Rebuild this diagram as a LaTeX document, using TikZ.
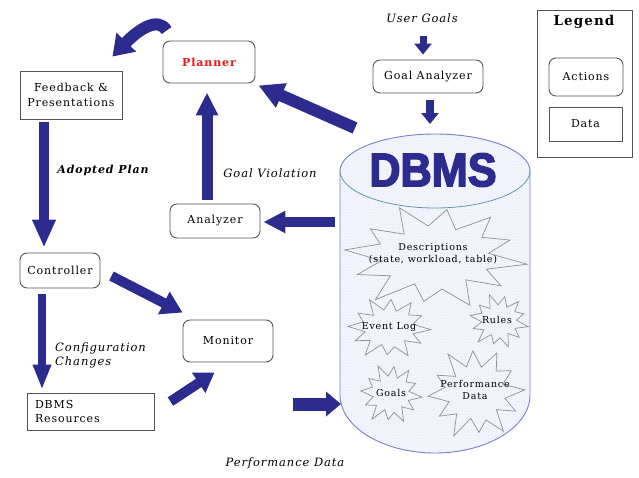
\documentclass[tikz,border=0pt]{standalone}
\usepackage{fontspec}
\setmainfont{DejaVu Serif}[LetterSpace=8]
\newfontfamily\dbmsfont{Liberation Sans}
\usetikzlibrary{arrows.meta,patterns}
\definecolor{arrowblue}{RGB}{44,44,142}
\definecolor{boxgray}{RGB}{85,85,85}
\definecolor{plannerred}{RGB}{235,20,20}
\definecolor{cylfill}{RGB}{242,245,252}
\definecolor{cyldots}{RGB}{212,220,238}
\definecolor{cylline}{RGB}{125,125,205}
\definecolor{cyltop}{RGB}{100,150,170}
\definecolor{burstgray}{RGB}{145,145,145}
\tikzset{
  action/.style={draw=boxgray, line width=0.9pt, rounded corners=7pt, fill=white,
    font=\fontsize{11}{14.5}\selectfont, inner sep=2pt},
  datab/.style={draw=boxgray, line width=0.9pt, fill=white,
    font=\fontsize{11}{14.5}\selectfont, inner sep=2pt},
  lbl/.style={font=\fontsize{11.5}{14}\selectfont\itshape, inner sep=0pt},
  barrow/.style={draw=arrowblue, line cap=butt},
  burst/.style={draw=burstgray, line width=0.7pt},
  btext/.style={font=\fontsize{9.5}{12}\selectfont, align=center, inner sep=0pt}
}
\newcommand\starburst[5]{%
  \draw[burst] ([shift={(#1,#2)}]#5:#3 and #4)
    \foreach \f [count=\k] in {0.6,0.9,0.55,1.0,0.62,0.86,0.56,1.04,0.6,0.9,0.58,0.98,0.64,0.88,0.55,1.02,0.6,0.92,0.57,0.97,0.63,0.87,0.58}
    { -- ([shift={(#1,#2)}]{#5+\k*15}:{#3*\f} and {#4*\f}) } -- cycle;}
\begin{document}
\begin{tikzpicture}[x=1pt,y=-1pt]
\path[use as bounding box, fill=white] (0,0) rectangle (639,477);

% ---- DBMS cylinder
\path[fill=cylfill, postaction={pattern=dots, pattern color=cyldots}] (340,171) -- (340,395) .. controls (340,427) and (383,453) .. (435,453)
  .. controls (487,453) and (530,427) .. (530,395) -- (530,171)
  .. controls (530,151) and (487,134) .. (435,134)
  .. controls (383,134) and (340,151) .. (340,171) -- cycle;
\draw[cylline, line width=0.9pt] (340,171) -- (340,395) .. controls (340,427) and (383,453) .. (435,453)
  .. controls (487,453) and (530,427) .. (530,395) -- (530,171)
  .. controls (530,151) and (487,134) .. (435,134)
  .. controls (383,134) and (340,151) .. (340,171);
\draw[cyltop, line width=0.8pt] (340,171) .. controls (340,191) and (383,208) .. (435,208)
  .. controls (487,208) and (530,191) .. (530,171);
\coordinate (dbms) at (435,290);
\node[text=arrowblue, font=\dbmsfont\fontsize{47}{50}\selectfont\bfseries, inner sep=0pt] (dbmslabel) at (433,170)
  {\scalebox{0.92}[1]{\special{pdf:literal 1.6 w 2 Tr}DBMS\special{pdf:literal 0 Tr 0.4 w}}};

% ---- starbursts
\starburst{435}{257}{93}{52}{8}
\node[btext] (desc) at (433,254) {Descriptions\\(state, workload, table)};
\starburst{389}{328}{42}{31}{3}
\node[btext] (evlog) at (389,327) {Event Log};
\starburst{499}{321}{30}{27}{12}
\node[btext] (rules) at (497,320) {Rules};
\starburst{391}{394}{31}{30}{6}
\node[btext] (goals) at (391,393) {Goals};
\starburst{476}{393}{49}{46}{-4}
\node[btext] (perf) at (475,390) {Performance\\Data};

% ---- nodes
\node[action, minimum width=92pt, minimum height=42pt] (planner) at (209,62)
  {\textcolor{plannerred}{\bfseries Planner}};
\node[datab, minimum width=102pt, minimum height=48pt, align=center] (feedback) at (71,95)
  {Feedback \&\\Presentations};
\node[action, minimum width=110pt, minimum height=33pt] (goalan) at (428,76.5) {Goal Analyzer};
\node[action, minimum width=90pt, minimum height=34pt] (analyzer) at (215,221) {Analyzer};
\node[action, minimum width=80pt, minimum height=35pt] (controller) at (60,270.5) {Controller};
\node[action, minimum width=90pt, minimum height=42pt] (monitor) at (228,341) {Monitor};
\node[datab, minimum width=127pt, minimum height=37pt, align=left, text width=111pt] (resources) at (90.5,411.5)
  {DBMS\\Resources};

% ---- legend
\node[datab, minimum width=95pt, minimum height=147pt] (legend) at (584.5,83.5) {};
\node[font=\fontsize{13.5}{15}\selectfont\bfseries, inner sep=0pt] (legendtitle) at (584,22) {Legend};
\node[action, minimum width=74pt, minimum height=38pt] (lact) at (586,77) {Actions};
\node[datab, minimum width=73pt, minimum height=34pt] (ldata) at (585.5,124) {Data};

% ---- labels
\node[lbl] (ugoals) at (422,18) {User Goals};
\node[lbl] (gviol) at (270,173) {Goal Violation};
\node[lbl, font=\fontsize{11}{14}\selectfont\bfseries\itshape] (adopted) at (103,170) {Adopted Plan};
\node[lbl, align=left, anchor=west] (config) at (55,355) {Configuration\\Changes};
\node[lbl] (perfd) at (285,463) {Performance Data};

% ---- arrows
\draw[barrow, line width=12pt, -{Triangle[length=20pt,width=26pt]}]
  ([shift={(4,-10)}]planner.north west) .. controls (158,16) and (138,30) .. ([shift={(-10,-14)}]feedback.north east);
\draw[barrow, line width=11pt, -{Triangle[length=23pt,width=21pt]}]
  ([shift={(-8,-4)}]analyzer.north) -- ([shift={(-2,9)}]planner.south);
\draw[barrow, line width=10pt, -{Triangle[length=28pt,width=22pt]}]
  ([shift={(-27,3)}]feedback.south) -- ([shift={(-16,-5)}]controller.north);
\draw[barrow, line width=10pt, -{Triangle[length=22pt,width=21pt]}]
  ([shift={(-100,-68)}]dbms) -- ([shift={(3,1)}]analyzer.east);
\draw[barrow, line width=12pt, -{Triangle[length=25pt,width=25pt]}]
  ([shift={(-80,-162)}]dbms) -- ([shift={(3,2)}]planner.south east);
\draw[barrow, line width=7pt, -{Triangle[length=11pt,width=17pt]}]
  ([shift={(1,13)}]ugoals.south) -- ([shift={(-5,-5)}]goalan.north);
\draw[barrow, line width=8pt, -{Triangle[length=11pt,width=17pt]}]
  ([shift={(2,7)}]goalan.south) -- ([shift={(-5,-166)}]dbms);
\draw[barrow, line width=10pt, -{Triangle[length=21pt,width=24pt]}]
  ([shift={(11,5.5)}]controller.east) -- ([shift={(0,-7)}]monitor.south west |- monitor.north);
\draw[barrow, line width=8pt, -{Triangle[length=25pt,width=17pt]}]
  ([shift={(-18,6)}]controller.south) -- ([shift={(-48.5,-3)}]resources.north);
\draw[barrow, line width=10pt, -{Triangle[length=19pt,width=23pt]}]
  ([shift={(16,9)}]resources.north east) -- ([shift={(32,10)}]monitor.south west);
\draw[barrow, line width=13pt, -{Triangle[length=15pt,width=24pt]}]
  ([shift={(-142,114)}]dbms) -- ([shift={(-94,114)}]dbms);
\end{tikzpicture}
\end{document}
